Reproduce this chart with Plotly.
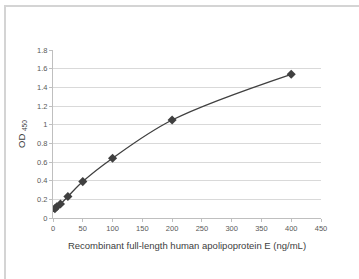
import plotly.graph_objects as go

conc = [3.125, 6.25, 12.5, 25, 50, 100, 200, 400]
od = [0.10, 0.12, 0.15, 0.23, 0.39, 0.64, 1.05, 1.54]
x_ticks = [0, 50, 100, 150, 200, 250, 300, 350, 400, 450]
y_ticks = [0, 0.2, 0.4, 0.6, 0.8, 1, 1.2, 1.4, 1.6, 1.8]
y_tick_text = ["0", "0.2", "0.4", "0.6", "0.8", "1", "1.2", "1.4", "1.6", "1.8"]

W, H = 359, 279
L, R, T, B = 53, 38, 50, 61
pw, ph = W - L - R, H - T - B

fig = go.Figure()
fig.add_trace(go.Scatter(
    x=conc, y=od, mode="lines+markers",
    line=dict(color="#404040", width=1.3, shape="spline", smoothing=1.0),
    marker=dict(symbol="diamond", size=7, color="#404040"),
    showlegend=False,
))

font = dict(family="Liberation Sans, Arial", size=7.5, color="#595959")
title_font = dict(family="Liberation Sans, Arial", size=9.5, color="#404040")
fig.update_layout(
    width=W, height=H,
    margin=dict(l=L, r=R, t=T, b=B, autoexpand=False),
    paper_bgcolor="white", plot_bgcolor="white",
    font=font,
    xaxis=dict(range=[0, 450], tickvals=x_ticks, ticks="outside", ticklen=3,
               tickcolor="#bfbfbf", showline=True, linecolor="#bfbfbf",
               showgrid=False, zeroline=False, tickfont=font, automargin=False,
               title=dict(text="Recombinant full-length human apolipoprotein E (ng/mL)",
                          font=title_font, standoff=10)),
    yaxis=dict(range=[0, 1.8], tickvals=y_ticks, ticktext=y_tick_text, ticks="outside",
               ticklen=3, tickcolor="#bfbfbf", showline=True, linecolor="#bfbfbf",
               showgrid=True, gridcolor="#d9d9d9", gridwidth=1, zeroline=False,
               tickfont=font, automargin=False,
               title=dict(text="OD <sub>450</sub>", font=title_font, standoff=9)),
)

def px_x(p):
    return (p - L) / pw

def px_y(p):
    return (H - B - p) / ph

frame = dict(color="#d4d4d4", width=2)
fig.add_shape(type="line", xref="paper", yref="paper",
              x0=px_x(4), x1=px_x(W), y0=px_y(6), y1=px_y(6), line=frame)
fig.add_shape(type="line", xref="paper", yref="paper",
              x0=px_x(5), x1=px_x(5), y0=px_y(5), y1=px_y(H), line=frame)

fig.write_html("out.html", config={"displayModeBar": False},
               post_script="document.body.style.margin='0px';document.body.style.padding='0px';")
